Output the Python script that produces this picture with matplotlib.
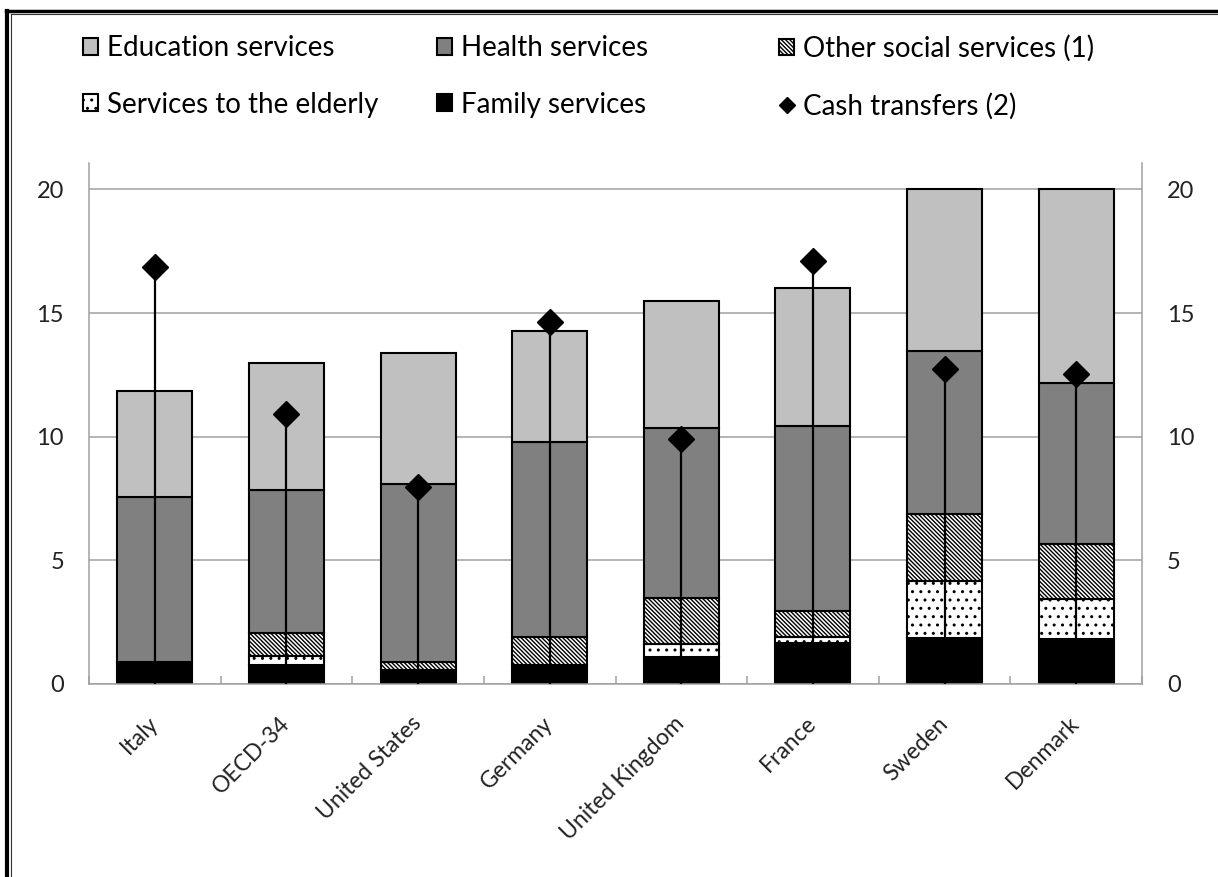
import matplotlib
matplotlib.use("Agg")
import matplotlib.pyplot as plt
import numpy as np
from matplotlib.lines import Line2D

plt.rcParams['font.family'] = ['Lato', 'DejaVu Sans']
plt.rcParams['hatch.color'] = 'black'
plt.rcParams['hatch.linewidth'] = 1.0

countries = ["Italy", "OECD-34", "United States", "Germany", "United Kingdom",
             "France", "Sweden", "Denmark"]
family = [0.90, 0.75, 0.57, 0.75, 1.11, 1.67, 1.87, 1.81]
elderly = [0.00, 0.38, 0.00, 0.00, 0.52, 0.23, 2.29, 1.64]
other_social = [0.00, 0.93, 0.30, 1.17, 1.84, 1.04, 2.72, 2.23]
health = [6.65, 5.79, 7.21, 7.88, 6.87, 7.51, 6.59, 6.49]
education = [4.30, 5.12, 5.29, 4.48, 5.13, 5.55, 6.53, 7.83]
cash = [16.85, 10.92, 7.98, 14.66, 9.90, 17.10, 12.73, 12.55]
yticks = [0, 5, 10, 15, 20]

W, H = 1218, 877
fig = plt.figure(figsize=(W / 100, H / 100), dpi=100)
ax = fig.add_axes([89 / W, 1 - 684 / H, (1142 - 89) / W, (684 - 163) / H])

x = np.arange(len(countries))
bw = 0.57
bottom = np.zeros(len(countries))
series = [
    ("Family services", family, dict(color="black")),
    ("Services to the elderly", elderly, dict(color="white", hatch="..")),
    ("Other social services (1)", other_social, dict(color="white", hatch="\\" * 8)),
    ("Health services", health, dict(color="#808080")),
    ("Education services", education, dict(color="#c0c0c0")),
]
handles = {}
for name, vals, style in series:
    vals = np.array(vals)
    b = ax.bar(x, vals, bw, bottom=bottom, edgecolor="black", linewidth=1.5,
               label=name, zorder=2, **style)
    handles[name] = b
    bottom = bottom + vals

ax.vlines(x, 0, cash, color="black", linewidth=1.6, zorder=3)
cash_line, = ax.plot(x, cash, linestyle="none", marker="D", markersize=13,
                     color="black", zorder=4, label="Cash transfers (2)")
handles["Cash transfers (2)"] = cash_line

ax.set_xlim(-0.5, len(countries) - 0.5)
ax.set_ylim(0, 21.07)
ax.set_yticks(yticks)
ax.yaxis.grid(True, color="#a0a0a0", linewidth=1.1, zorder=0)
ax.set_axisbelow(True)
ax.tick_params(axis="y", length=0, labelsize=17, pad=18, labelright=True,
               labelleft=True, colors="#222222")
ax.set_xticks(x)
ax.set_xticks(np.arange(-0.5, len(countries)), minor=True)
ax.tick_params(axis="x", which="major", length=0, pad=26)
ax.tick_params(axis="x", which="minor", length=6, direction="in",
               color="#a0a0a0", width=1.1)
ax.set_xticklabels(countries, rotation=45, ha="right", va="center",
                   rotation_mode="anchor", fontsize=16.5, color="#222222")
for s in ["left", "right", "bottom"]:
    ax.spines[s].set_color("#a0a0a0")
    ax.spines[s].set_linewidth(1.1)
ax.spines["top"].set_visible(False)

cols = [
    (83, ["Education services", "Services to the elderly"]),
    (437, ["Health services", "Family services"]),
    (779, ["Other social services (1)", "Cash transfers (2)"]),
]
for xpix, names in cols:
    leg = fig.legend([handles[n] for n in names], names, loc="upper left",
                     bbox_to_anchor=(xpix / W, 1 - 35 / H), frameon=False,
                     fontsize=20, handlelength=0.55, handleheight=0.55,
                     handletextpad=0.3, labelspacing=1.1, borderpad=0,
                     borderaxespad=0, markerscale=0.6)

# double border at top and left
fig.add_artist(Line2D([7 / W, 7 / W], [0, 1 - 10.5 / H], transform=fig.transFigure,
                      color="black", linewidth=3))
fig.add_artist(Line2D([5.5 / W, 1], [1 - 10.5 / H, 1 - 10.5 / H], transform=fig.transFigure,
                      color="black", linewidth=2.5))
fig.add_artist(Line2D([11 / W, 11 / W], [0, 1 - 13.7 / H], transform=fig.transFigure,
                      color="#333333", linewidth=0.8))
fig.add_artist(Line2D([11 / W, 1], [1 - 13.7 / H, 1 - 13.7 / H], transform=fig.transFigure,
                      color="#333333", linewidth=0.8))

fig.savefig("out.png", dpi=100)
